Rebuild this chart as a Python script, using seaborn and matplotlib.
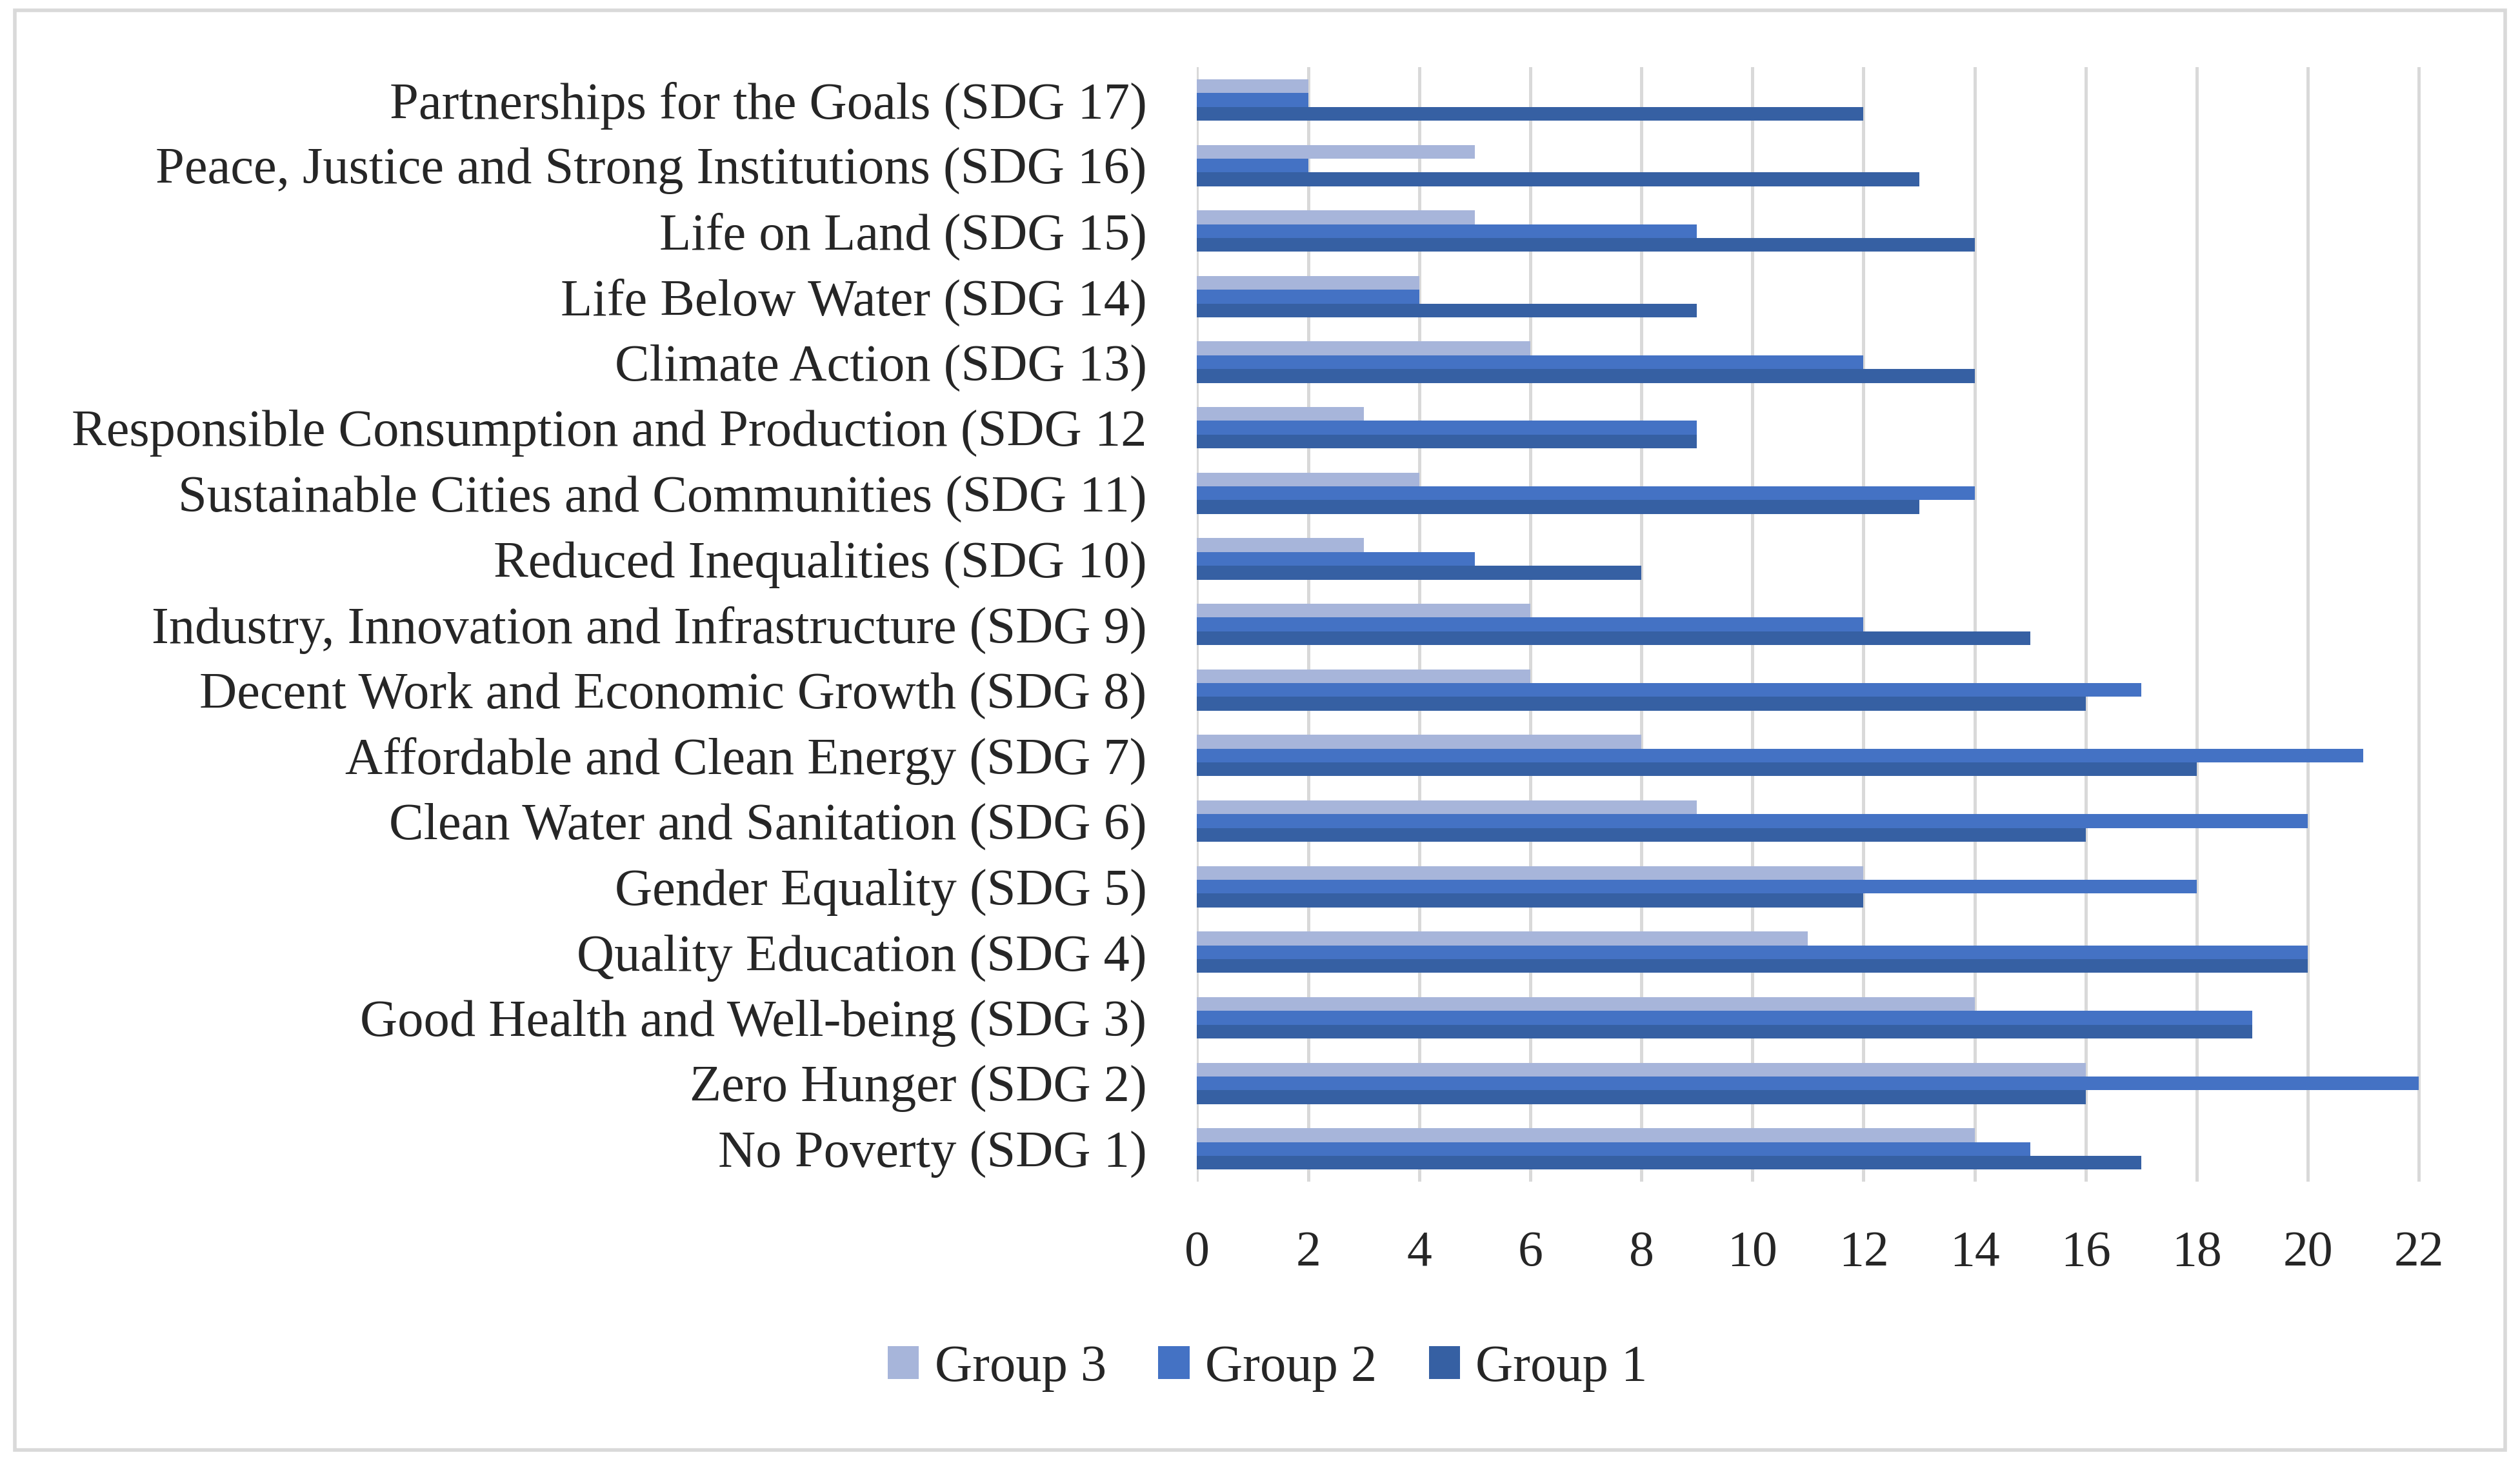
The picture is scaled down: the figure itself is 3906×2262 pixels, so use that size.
import matplotlib
matplotlib.use("Agg")
import matplotlib.pyplot as plt
import seaborn as sns
import pandas as pd
from matplotlib.patches import Rectangle

# -------------------
# DATA
# -------------------
sdgs = [
    "Partnerships for the Goals (SDG 17)",
    "Peace, Justice and Strong Institutions (SDG 16)",
    "Life on Land (SDG 15)",
    "Life Below Water (SDG 14)",
    "Climate Action (SDG 13)",
    "Responsible Consumption and Production (SDG 12",
    "Sustainable Cities and Communities (SDG 11)",
    "Reduced Inequalities (SDG 10)",
    "Industry, Innovation and Infrastructure (SDG 9)",
    "Decent Work and Economic Growth (SDG 8)",
    "Affordable and Clean Energy (SDG 7)",
    "Clean Water and Sanitation (SDG 6)",
    "Gender Equality (SDG 5)",
    "Quality Education (SDG 4)",
    "Good Health and Well-being (SDG 3)",
    "Zero Hunger (SDG 2)",
    "No Poverty (SDG 1)",
]
group3 = [2, 5, 5, 4, 6, 3, 4, 3, 6, 6, 8, 9, 12, 11, 14, 16, 14]
group2 = [2, 2, 9, 4, 12, 9, 14, 5, 12, 17, 21, 20, 18, 20, 19, 22, 15]
group1 = [12, 13, 14, 9, 14, 9, 13, 8, 15, 16, 18, 16, 12, 20, 19, 16, 17]
groups = ["Group 3", "Group 2", "Group 1"]
x_ticks = list(range(0, 23, 2))

df = pd.DataFrame({
    "sdg": sdgs * 3,
    "group": ["Group 3"] * len(sdgs) + ["Group 2"] * len(sdgs) + ["Group 1"] * len(sdgs),
    "count": group3 + group2 + group1,
})

colors = ["#A7B5DA", "#4472C4", "#3660A3"]

# -------------------
# PLOT
# -------------------
sns.set_style("white")
plt.rcParams["font.family"] = ["Liberation Serif", "DejaVu Serif"]

fig = plt.figure(figsize=(19.53, 11.31), dpi=200)
ax = fig.add_axes([0.475, 0.190, 0.486, 0.764])

sns.barplot(data=df, y="sdg", x="count", hue="group", hue_order=groups,
            order=sdgs, palette=colors, orient="h", width=0.63,
            saturation=1, linewidth=0, ax=ax)

ax.set_xlim(0, 22.05)
ax.set_ylim(16.5, -0.5)
ax.set_xticks(x_ticks)
ax.set_xlabel("")
ax.set_ylabel("")
ax.xaxis.grid(True, color="#D9D9D9", linewidth=1.8)
ax.set_axisbelow(True)
for s in ax.spines.values():
    s.set_visible(False)
ax.tick_params(axis="y", length=0, pad=28, labelsize=29)
ax.tick_params(axis="x", length=0, pad=27, labelsize=28)

handles, labels = ax.get_legend_handles_labels()
ax.get_legend().remove()
fig.legend(handles, labels, loc="center", bbox_to_anchor=(0.503, 0.062),
           ncol=3, frameon=False, fontsize=29, handlelength=0.6,
           handleheight=0.6, handletextpad=0.3, columnspacing=1.0)

fig.patches.append(Rectangle((0.006, 0.006), 0.988, 0.987, transform=fig.transFigure,
                             fill=False, edgecolor="#D9D9D9", linewidth=2))

fig.savefig("out.png", dpi=200, facecolor="white")
